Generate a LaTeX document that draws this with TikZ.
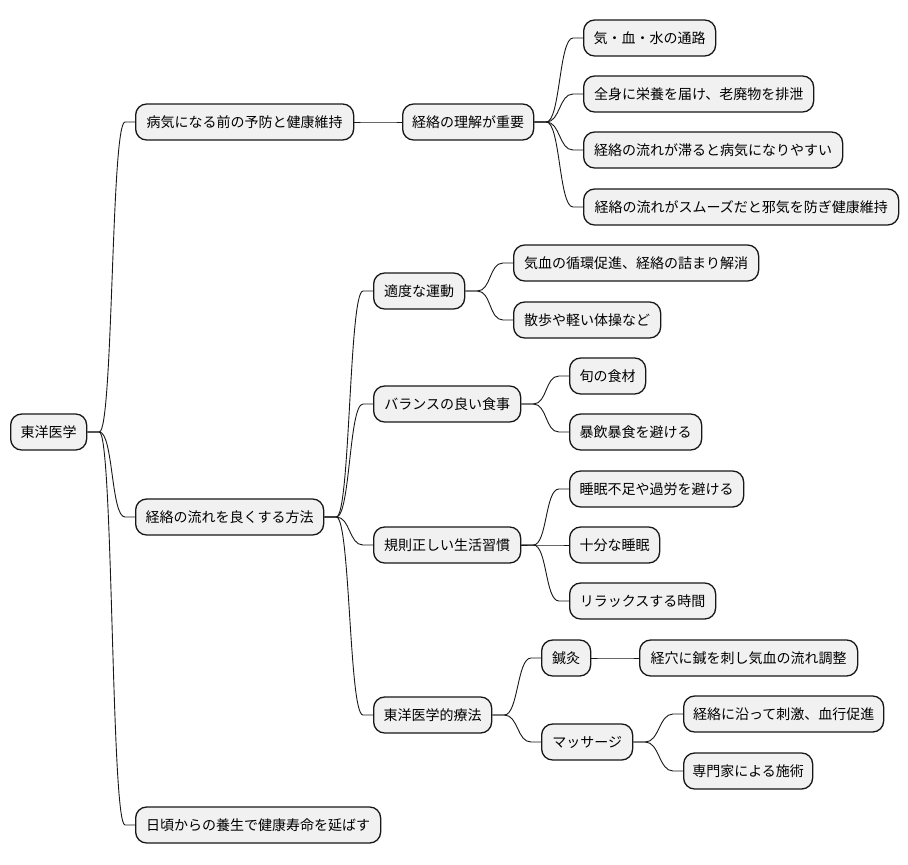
\documentclass[tikz,border=0pt]{standalone}
\usepackage{fontspec}
\newfontfamily\jpfont{Noto Sans CJK JP}
\definecolor{boxfill}{HTML}{F1F1F1}
\definecolor{boxline}{HTML}{181818}
\tikzset{
  mmbox/.style={draw=boxline, line width=1.3pt, fill=boxfill, rounded corners=11pt,
    minimum height=36pt, inner xsep=0pt, inner ysep=0pt, anchor=west,
    font=\jpfont\fontsize{14pt}{16pt}\selectfont, text=black},
  mmlinkstyle/.style={draw=boxline, line width=0.9pt}
}
\newcommand\mmlink[2]{\draw[mmlinkstyle] (#1.east) -- ++(12,0) .. controls +(14,0) and +(-14,0) .. ([xshift=-10pt]#2.west) -- (#2.west);}
\begin{document}
\begin{tikzpicture}[x=1pt,y=-1pt]
\useasboundingbox (0,0) rectangle (908,865);
\fill[white] (0,0) rectangle (908,865);
% root
\node[mmbox, minimum width=76pt] (root) at (10,432) {東洋医学};
% branch A
\node[mmbox, minimum width=218pt] (A) at (135,122) {病気になる前の予防と健康維持};
\node[mmbox, minimum width=131pt] (A1) at (402,122) {経絡の理解が重要};
\node[mmbox, minimum width=132pt] (A1a) at (583,38) {気・血・水の通路};
\node[mmbox, minimum width=230pt] (A1b) at (583,94) {全身に栄養を届け、老廃物を排泄};
\node[mmbox, minimum width=259pt] (A1c) at (583,150) {経絡の流れが滞ると病気になりやすい};
\node[mmbox, minimum width=315pt] (A1d) at (583,207) {経絡の流れがスムーズだと邪気を防ぎ健康維持};
% branch B
\node[mmbox, minimum width=188pt] (B) at (135,517) {経絡の流れを良くする方法};
\node[mmbox, minimum width=91pt] (B1) at (373,291) {適度な運動};
\node[mmbox, minimum width=245pt] (B1a) at (513,263) {気血の循環促進、経絡の詰まり解消};
\node[mmbox, minimum width=147pt] (B1b) at (513,320) {散歩や軽い体操など};
\node[mmbox, minimum width=147pt] (B2) at (373,404) {バランスの良い食事};
\node[mmbox, minimum width=76pt] (B2a) at (569,376) {旬の食材};
\node[mmbox, minimum width=132pt] (B2b) at (569,432) {暴飲暴食を避ける};
\node[mmbox, minimum width=147pt] (B3) at (373,545) {規則正しい生活習慣};
\node[mmbox, minimum width=174pt] (B3a) at (569,489) {睡眠不足や過労を避ける};
\node[mmbox, minimum width=90pt] (B3b) at (569,545) {十分な睡眠};
\node[mmbox, minimum width=146pt] (B3c) at (569,601) {リラックスする時間};
\node[mmbox, minimum width=118pt] (B4) at (373,715) {東洋医学的療法};
\node[mmbox, minimum width=49pt] (B4a) at (541,658) {鍼灸};
\node[mmbox, minimum width=218pt] (B4a1) at (639,658) {経穴に鍼を刺し気血の流れ調整};
\node[mmbox, minimum width=91pt] (B4b) at (541,742) {マッサージ};
\node[mmbox, minimum width=200pt] (B4b1) at (683,714) {経絡に沿って刺激、血行促進};
\node[mmbox, minimum width=129pt] (B4b2) at (683,771) {専門家による施術};
% branch C
\node[mmbox, minimum width=245pt] (C) at (135,825) {日頃からの養生で健康寿命を延ばす};
% links
\mmlink{root}{A}
\mmlink{root}{B}
\mmlink{root}{C}
\mmlink{A}{A1}
\mmlink{A1}{A1a}
\mmlink{A1}{A1b}
\mmlink{A1}{A1c}
\mmlink{A1}{A1d}
\mmlink{B}{B1}
\mmlink{B}{B2}
\mmlink{B}{B3}
\mmlink{B}{B4}
\mmlink{B1}{B1a}
\mmlink{B1}{B1b}
\mmlink{B2}{B2a}
\mmlink{B2}{B2b}
\mmlink{B3}{B3a}
\mmlink{B3}{B3b}
\mmlink{B3}{B3c}
\mmlink{B4}{B4a}
\mmlink{B4}{B4b}
\mmlink{B4a}{B4a1}
\mmlink{B4b}{B4b1}
\mmlink{B4b}{B4b2}
\end{tikzpicture}
\end{document}
